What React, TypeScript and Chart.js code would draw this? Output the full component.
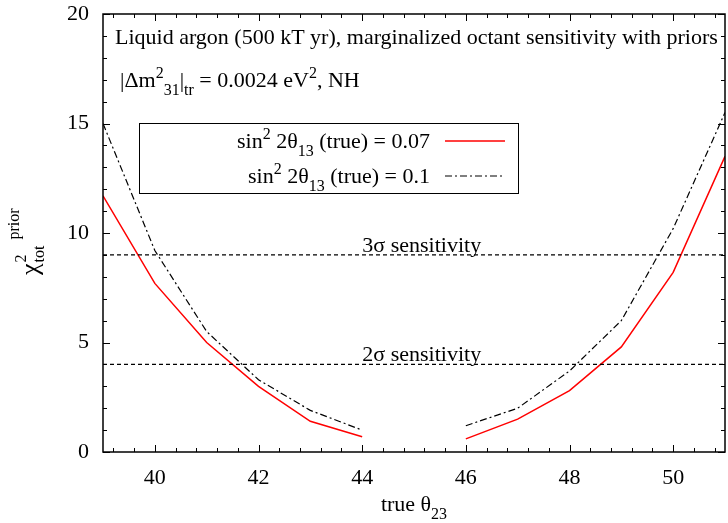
import React, { useEffect, useRef } from "react";
import { Chart, registerables } from "chart.js";

Chart.register(...registerables);

// true theta_23 (degrees); the gap at 45 separates the two octants
const theta23 = [39, 40, 41, 42, 43, 44, 45, 46, 47, 48, 49, 50, 51];
// chi^2 with priors, sin^2 2theta13 (true) = 0.07
const chiS07: (number | null)[] = [11.7, 7.7, 5.0, 3.0, 1.4, 0.7, null, 0.6, 1.5, 2.8, 4.8, 8.2, 13.5];
// chi^2 with priors, sin^2 2theta13 (true) = 0.1
const chiS10: (number | null)[] = [15.0, 9.2, 5.5, 3.3, 1.9, 1.0, null, 1.2, 2.0, 3.7, 6.0, 10.2, 15.5];
// sensitivity thresholds
const sigmaLevels = [9, 4];
const sigmaLabels = ["3σ sensitivity", "2σ sensitivity"];
const xTickLabels = [40, 42, 44, 46, 48, 50];
const yTickLabels = [0, 5, 10, 15, 20];

const FONT = '"Liberation Serif", "DejaVu Serif", "Times New Roman", serif';
const FS = 22;

type Seg = { t: string; k?: "sup" | "sub" };

function segFont(k?: string) {
  return k ? `${Math.round(FS * 0.74)}px ${FONT}` : `${FS}px ${FONT}`;
}

function richWidth(ctx: CanvasRenderingContext2D, segs: Seg[]) {
  let w = 0;
  for (const s of segs) {
    ctx.font = segFont(s.k);
    w += ctx.measureText(s.t).width;
  }
  return w;
}

function drawRich(
  ctx: CanvasRenderingContext2D,
  segs: Seg[],
  x: number,
  y: number,
  align: "left" | "right" | "center"
) {
  const w = richWidth(ctx, segs);
  let cx = align === "left" ? x : align === "right" ? x - w : x - w / 2;
  ctx.textAlign = "left";
  ctx.textBaseline = "alphabetic";
  for (const s of segs) {
    ctx.font = segFont(s.k);
    const dy = s.k === "sup" ? -FS * 0.43 : s.k === "sub" ? FS * 0.36 : 0;
    ctx.fillText(s.t, cx, y + dy);
    cx += ctx.measureText(s.t).width;
  }
}

const titleLine1: Seg[] = [
  { t: "Liquid argon (500 kT yr), marginalized octant sensitivity with priors" },
];
const titleLine2: Seg[] = [
  { t: "|Δm" },
  { t: "2", k: "sup" },
  { t: "31", k: "sub" },
  { t: "|" },
  { t: "tr", k: "sub" },
  { t: " = 0.0024 eV" },
  { t: "2", k: "sup" },
  { t: ", NH" },
];
const legendA: Seg[] = [
  { t: "sin" },
  { t: "2", k: "sup" },
  { t: " 2θ" },
  { t: "13", k: "sub" },
  { t: " (true) = 0.07" },
];
const legendB: Seg[] = [
  { t: "sin" },
  { t: "2", k: "sup" },
  { t: " 2θ" },
  { t: "13", k: "sub" },
  { t: " (true) = 0.1" },
];
const xTitle: Seg[] = [{ t: "true θ" }, { t: "23", k: "sub" }];

const DASHDOT = [7, 3, 2, 3];
const DASHED = [4, 3];

const overlay = {
  id: "overlay",
  afterDraw(chart: any) {
    const ctx: CanvasRenderingContext2D = chart.ctx;
    const { left, right, top, bottom } = chart.chartArea;
    const xs = chart.scales.x;
    const ys = chart.scales.y;
    ctx.save();
    ctx.fillStyle = "#000";
    ctx.strokeStyle = "#000";

    // frame
    ctx.lineWidth = 1.5;
    ctx.setLineDash([]);
    ctx.strokeRect(left, top, right - left, bottom - top);

    // inward ticks, mirrored on all four sides
    ctx.lineWidth = 1;
    ctx.beginPath();
    for (let v = 0; v <= 20; v++) {
      const py = Math.round(ys.getPixelForValue(v)) + 0.5;
      const len = v % 5 === 0 ? 7 : 4;
      ctx.moveTo(left, py);
      ctx.lineTo(left + len, py);
      ctx.moveTo(right, py);
      ctx.lineTo(right - len, py);
    }
    for (let k = -2; k <= 27; k++) {
      const v = 40 + k * 0.4;
      if (v <= 39 || v >= 51) continue;
      const px = Math.round(xs.getPixelForValue(v)) + 0.5;
      const len = k % 5 === 0 ? 7 : 4;
      ctx.moveTo(px, bottom);
      ctx.lineTo(px, bottom - len);
      ctx.moveTo(px, top);
      ctx.lineTo(px, top + len);
    }
    ctx.stroke();

    // sensitivity labels
    sigmaLevels.forEach((lv, i) => {
      drawRich(ctx, [{ t: sigmaLabels[i] }], xs.getPixelForValue(45.15), ys.getPixelForValue(lv) - 3, "center");
    });

    // header text
    drawRich(ctx, titleLine1, left + 12, 44, "left");
    drawRich(ctx, titleLine2, left + 17, 87, "left");

    // legend box
    ctx.fillStyle = "#fff";
    ctx.fillRect(139, 123, 379, 70);
    ctx.lineWidth = 1;
    ctx.strokeRect(139.5, 123.5, 379, 70);
    ctx.fillStyle = "#000";
    drawRich(ctx, legendA, 430, 148, "right");
    drawRich(ctx, legendB, 430, 183, "right");
    ctx.lineWidth = 1.5;
    ctx.strokeStyle = "#ff0000";
    ctx.beginPath();
    ctx.moveTo(445, 141);
    ctx.lineTo(505, 141);
    ctx.stroke();
    ctx.strokeStyle = "#000";
    ctx.lineWidth = 1.2;
    ctx.setLineDash(DASHDOT);
    ctx.beginPath();
    ctx.moveTo(445, 176);
    ctx.lineTo(505, 176);
    ctx.stroke();
    ctx.setLineDash([]);

    // x-axis title
    drawRich(ctx, xTitle, (left + right) / 2, 511, "center");

    // y-axis title, rotated
    ctx.save();
    ctx.translate(38, 275);
    ctx.rotate(-Math.PI / 2);
    ctx.textAlign = "left";
    ctx.textBaseline = "alphabetic";
    ctx.font = `${FS + 4}px ${FONT}`;
    ctx.fillText("χ", 0, 0);
    const cw = ctx.measureText("χ").width;
    ctx.font = segFont("sup");
    ctx.fillText("2", cw + 1, -12);
    ctx.fillText("tot", cw + 1, 6);
    const tw = ctx.measureText("tot").width;
    ctx.fillText("prior", cw + tw + 7, -19);
    ctx.restore();

    ctx.restore();
  },
};

export default function App() {
  const ref = useRef<HTMLCanvasElement>(null);
  useEffect(() => {
    document.body.style.margin = "0";
    const canvas = ref.current!;
    const pts = (arr: (number | null)[]) => theta23.map((x, i) => ({ x, y: arr[i] }));
    const chart = new Chart(canvas, {
      type: "line",
      data: {
        datasets: [
          ...sigmaLevels.map((lv) => ({
            data: [
              { x: theta23[0], y: lv },
              { x: theta23[theta23.length - 1], y: lv },
            ],
            borderColor: "#000",
            borderWidth: 1.2,
            borderDash: DASHED,
            pointRadius: 0,
            fill: false,
          })),
          {
            data: pts(chiS07),
            borderColor: "#ff0000",
            borderWidth: 1.5,
            pointRadius: 0,
            spanGaps: false,
            fill: false,
          },
          {
            data: pts(chiS10),
            borderColor: "#000",
            borderWidth: 1.2,
            borderDash: DASHDOT,
            pointRadius: 0,
            spanGaps: false,
            fill: false,
          },
        ] as any,
      },
      options: {
        responsive: false,
        animation: false,
        devicePixelRatio: 1,
        layout: { padding: { top: 14, right: 3, left: 0, bottom: 0 } },
        plugins: { legend: { display: false }, tooltip: { enabled: false } },
        scales: {
          x: {
            type: "linear",
            min: 39,
            max: 51,
            grid: { display: false, drawTicks: false },
            border: { display: false },
            afterBuildTicks: (s: any) => {
              s.ticks = xTickLabels.map((v) => ({ value: v }));
            },
            afterFit: (s: any) => {
              s.height = 71;
              s.paddingLeft = 0;
              s.paddingRight = 0;
            },
            ticks: { font: { family: FONT, size: FS }, color: "#000", padding: 13, maxRotation: 0, autoSkip: false },
          },
          y: {
            type: "linear",
            min: 0,
            max: 20,
            grid: { display: false, drawTicks: false },
            border: { display: false },
            afterBuildTicks: (s: any) => {
              s.ticks = yTickLabels.map((v) => ({ value: v }));
            },
            afterFit: (s: any) => {
              s.width = 103;
              s.paddingTop = 0;
              s.paddingBottom = 0;
            },
            ticks: { font: { family: FONT, size: FS }, color: "#000", padding: 14 },
          },
        },
      },
      plugins: [overlay],
    });
    return () => chart.destroy();
  }, []);
  return (
    <div style={{ width: 728, height: 523, background: "#fff" }}>
      <canvas ref={ref} width={728} height={523} />
    </div>
  );
}
